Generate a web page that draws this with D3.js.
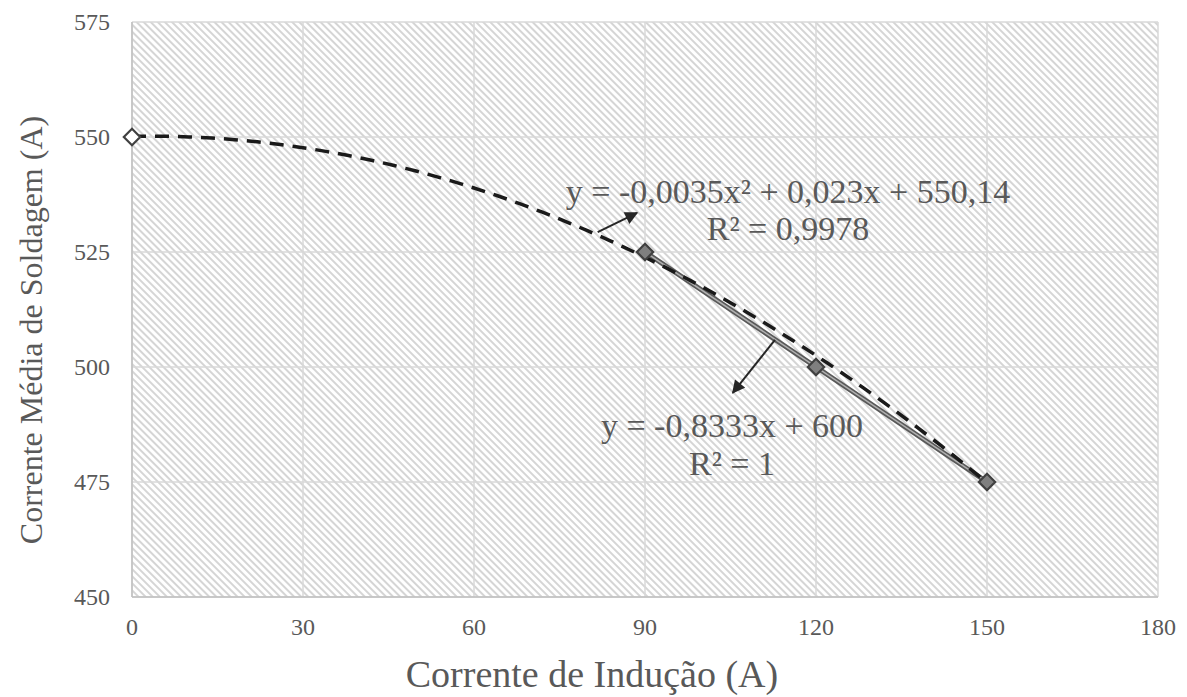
<!DOCTYPE html>
<html>
<head>
<meta charset="utf-8">
<script src="https://cdn.jsdelivr.net/npm/d3@7"></script>
<style>
  body { margin: 0; background: #fff; }
  text { font-family: "Liberation Serif", "Times New Roman", serif; }
</style>
</head>
<body>
<div id="chart"></div>
<script>
let w = 1187, h = 697,
	margins = {left: 132, right: 1158, top: 22, bottom: 597}

// measured points
let inducao = [0, 90, 120, 150]
let soldagem = [550, 525, 500, 475]
// trend line coefficients as printed on the chart
let quadCoef = [-0.0035, 0.023, 550.14]
let linCoef = [-0.8333, 600]
let xTicks = [0, 30, 60, 90, 120, 150, 180]
let yTicks = [450, 475, 500, 525, 550, 575]
let eqQuad = ["y = -0,0035x² + 0,023x + 550,14", "R² = 0,9978"]
let eqLin = ["y = -0,8333x + 600", "R² = 1"]

let svg = d3.select("#chart").append("svg")
	.attr("width", w)
	.attr("height", h)

let x = d3.scaleLinear().domain([0, 180]).range([margins.left, margins.right])
let y = d3.scaleLinear().domain([450, 575]).range([margins.bottom, margins.top])

// hatch fill
let defs = svg.append("defs")
let pat = defs.append("pattern")
	.attr("id", "hatch")
	.attr("patternUnits", "userSpaceOnUse")
	.attr("width", 5).attr("height", 5)
	.attr("patternTransform", "rotate(-45)")
pat.append("rect").attr("width", 5).attr("height", 5).attr("fill", "#fff")
pat.append("line")
	.attr("x1", 1).attr("x2", 1).attr("y1", 0).attr("y2", 5)
	.attr("stroke", "#cbcbcb").attr("stroke-width", 1.6)
defs.append("marker")
	.attr("id", "arrow")
	.attr("viewBox", "0 0 10 10")
	.attr("refX", 9).attr("refY", 5)
	.attr("markerWidth", 15).attr("markerHeight", 13)
	.attr("markerUnits", "userSpaceOnUse")
	.attr("orient", "auto")
	.append("path").attr("d", "M0,0L10,5L0,10z").attr("fill", "#262626")

svg.append("rect")
	.attr("x", margins.left).attr("y", margins.top)
	.attr("width", margins.right - margins.left)
	.attr("height", margins.bottom - margins.top)
	.attr("fill", "url(#hatch)")

// grid
svg.append("g").selectAll("line").data(xTicks).join("line")
	.attr("x1", d => x(d)).attr("x2", d => x(d))
	.attr("y1", margins.top).attr("y2", margins.bottom)
	.attr("stroke", "#d9d9d9").attr("stroke-width", 1.5)
svg.append("g").selectAll("line").data(yTicks).join("line")
	.attr("y1", d => y(d)).attr("y2", d => y(d))
	.attr("x1", margins.left).attr("x2", margins.right)
	.attr("stroke", "#d9d9d9").attr("stroke-width", 1.5)
// axis edges
svg.append("line")
	.attr("x1", margins.left).attr("x2", margins.left)
	.attr("y1", margins.top).attr("y2", margins.bottom)
	.attr("stroke", "#bfbfbf").attr("stroke-width", 1.5)
svg.append("line")
	.attr("x1", margins.left).attr("x2", margins.right)
	.attr("y1", margins.bottom).attr("y2", margins.bottom)
	.attr("stroke", "#bfbfbf").attr("stroke-width", 1.5)

// tick labels
svg.append("g").selectAll("text").data(xTicks).join("text")
	.attr("x", d => x(d)).attr("y", margins.bottom + 38)
	.attr("text-anchor", "middle")
	.attr("font-size", 24).attr("fill", "#595959")
	.text(d => d)
svg.append("g").selectAll("text").data(yTicks).join("text")
	.attr("x", margins.left - 22).attr("y", d => y(d) + 8)
	.attr("text-anchor", "end")
	.attr("font-size", 24).attr("fill", "#595959")
	.text(d => d)

// axis titles
svg.append("text")
	.attr("x", 592).attr("y", 687)
	.attr("text-anchor", "middle")
	.attr("font-size", 38).attr("fill", "#595959")
	.text("Corrente de Indução (A)")
svg.append("text")
	.attr("transform", "rotate(-90)")
	.attr("x", -330).attr("y", 42)
	.attr("text-anchor", "middle")
	.attr("font-size", 32).attr("fill", "#595959")
	.text("Corrente Média de Soldagem (A)")

let line = d3.line().x(d => x(d[0])).y(d => y(d[1]))
let pts = inducao.map((d, i) => [d, soldagem[i]])
let last3 = pts.slice(1)

// measured line for the last three points
svg.append("path")
	.attr("d", line(last3))
	.attr("fill", "none").attr("stroke", "#595959").attr("stroke-width", 5)

// linear trend
let xl = d3.extent(last3, d => d[0])
svg.append("path")
	.attr("d", line(xl.map(v => [v, linCoef[0] * v + linCoef[1]])))
	.attr("fill", "none").attr("stroke", "#b0b0b0").attr("stroke-width", 1.5)

// quadratic trend
let xs = d3.range(0, 150.5, 2)
svg.append("path")
	.attr("d", line(xs.map(v => [v, quadCoef[0] * v * v + quadCoef[1] * v + quadCoef[2]])))
	.attr("fill", "none").attr("stroke", "#1a1a1a").attr("stroke-width", 3.5)
	.attr("stroke-dasharray", "14,9")

// markers
let diamond = d3.symbol().type(d3.symbolDiamond2).size(170)
svg.append("g").selectAll("path").data(pts).join("path")
	.attr("transform", d => "translate(" + x(d[0]) + "," + y(d[1]) + ")")
	.attr("d", diamond)
	.attr("fill", (d, i) => i == 0 ? "#fff" : "#7f7f7f")
	.attr("stroke", "#404040").attr("stroke-width", 2.2)

// equations
svg.append("g").selectAll("text").data(eqQuad).join("text")
	.attr("x", 788).attr("y", (d, i) => 203 + i * 37)
	.attr("text-anchor", "middle")
	.attr("font-size", 34).attr("fill", "#595959")
	.text(d => d)
svg.append("g").selectAll("text").data(eqLin).join("text")
	.attr("x", 732).attr("y", (d, i) => 437 + i * 38)
	.attr("text-anchor", "middle")
	.attr("font-size", 34).attr("fill", "#595959")
	.text(d => d)

// arrows pointing to the trend lines
svg.append("line")
	.attr("x1", x(81.7)).attr("y1", y(529.3))
	.attr("x2", x(88.6)).attr("y2", y(533.5))
	.attr("stroke", "#262626").attr("stroke-width", 2)
	.attr("marker-end", "url(#arrow)")
svg.append("line")
	.attr("x1", x(112.8)).attr("y1", y(505.9))
	.attr("x2", x(105.4)).attr("y2", y(494.4))
	.attr("stroke", "#262626").attr("stroke-width", 2)
	.attr("marker-end", "url(#arrow)")
</script>
</body>
</html>
